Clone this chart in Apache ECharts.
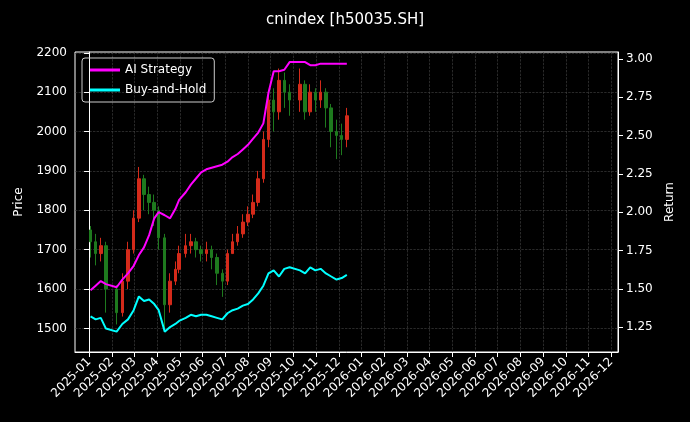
<!DOCTYPE html>
<html><head><meta charset="utf-8">
<script src="https://cdn.jsdelivr.net/npm/echarts@6/dist/echarts.min.js"></script>
<style>html,body{margin:0;background:#000}#c{width:690px;height:422px}</style>
</head><body><div id="c"></div>
<script>
const dates=['2025-01-03','2025-01-10','2025-01-17','2025-01-24','2025-02-07','2025-02-14','2025-02-21','2025-02-28','2025-03-07','2025-03-14','2025-03-21','2025-03-28','2025-04-03','2025-04-11','2025-04-18','2025-04-25','2025-04-30','2025-05-09','2025-05-16','2025-05-23','2025-05-30','2025-06-06','2025-06-13','2025-06-20','2025-06-27','2025-07-04','2025-07-11','2025-07-18','2025-07-25','2025-08-01','2025-08-08','2025-08-15','2025-08-22','2025-08-29','2025-09-05','2025-09-12','2025-09-19','2025-09-26','2025-10-10','2025-10-17','2025-10-24','2025-10-31','2025-11-07','2025-11-14','2025-11-21','2025-11-28','2025-12-05','2025-12-12'];
const open=[1750,1720,1690,1710,1600,1540,1620,1700,1780,1880,1840,1820,1800,1730,1560,1620,1650,1690,1710,1720,1700,1690,1700,1680,1640,1620,1690,1720,1740,1770,1790,1820,1880,1980,2080,2050,2130,2100,2080,2120,2050,2100,2080,2100,2060,2000,1990,1980];
const close=[1720,1690,1710,1600,1540,1620,1700,1780,1880,1840,1820,1800,1730,1560,1620,1650,1690,1710,1720,1700,1690,1700,1680,1640,1620,1690,1720,1740,1770,1790,1820,1880,1980,2080,2050,2130,2100,2080,2120,2050,2100,2080,2100,2060,2000,1990,1980,2040];
const low=[1680,1660,1670,1540,1510,1530,1600,1690,1770,1800,1790,1760,1700,1500,1540,1610,1640,1680,1690,1680,1670,1670,1650,1610,1580,1610,1690,1710,1730,1760,1780,1810,1870,1960,2000,2030,2060,2040,2050,2030,2040,2050,2060,2010,1960,1930,1940,1960];
const high=[1760,1740,1730,1720,1610,1640,1720,1800,1910,1890,1860,1840,1810,1740,1640,1670,1710,1740,1740,1730,1710,1720,1710,1690,1650,1700,1740,1760,1790,1810,1840,1900,2000,2100,2110,2160,2150,2120,2160,2130,2120,2110,2130,2110,2070,2030,2020,2060];
const aiRet=[1.49,1.52,1.55,1.53,1.51,1.56,1.60,1.65,1.72,1.77,1.85,1.96,2.00,1.98,1.96,2.02,2.08,2.13,2.18,2.22,2.26,2.28,2.29,2.30,2.31,2.33,2.36,2.38,2.41,2.44,2.48,2.52,2.58,2.78,2.92,2.92,2.93,2.98,2.98,2.98,2.96,2.96,2.97,2.97,2.97,2.97,2.97,2.97];
const bhRet=[1.32,1.30,1.31,1.24,1.22,1.27,1.30,1.36,1.45,1.42,1.43,1.40,1.36,1.22,1.25,1.27,1.29,1.31,1.33,1.32,1.33,1.33,1.32,1.31,1.30,1.34,1.36,1.37,1.39,1.40,1.43,1.47,1.52,1.60,1.62,1.58,1.63,1.64,1.62,1.60,1.64,1.62,1.63,1.60,1.58,1.56,1.57,1.59];
const priceTicks=[1500,1600,1700,1800,1900,2000,2100,2200];
const retTicks=[1.25,1.5,1.75,2.0,2.25,2.5,2.75,3.0];
const monthTicks=[...Array(24).keys()];
function mIdx(s){const[y,m,d]=s.split('-').map(Number);const dim=new Date(y,m,0).getDate();return (y-2025)*12+(m-1)+(d-1)/dim;}
function mLabel(v){const y=2025+Math.floor(v/12),m=v%12+1;return y+'-'+String(m).padStart(2,'0');}
const xs=dates.map(mIdx);
const grid={type:'dashed',color:'#444',width:0.6};
const chart=echarts.init(document.getElementById('c'));
chart.setOption({
 backgroundColor:'#000',animation:false,
 title:{text:'cnindex [h50035.SH]',left:'center',top:8,textStyle:{color:'#fff',fontSize:15,fontWeight:'normal',fontFamily:'DejaVu Sans'}},
 legend:{left:82,top:58,orient:'vertical',itemWidth:30,itemHeight:3,itemGap:8,data:['AI Strategy','Buy-and-Hold'],borderColor:'#ccc',borderWidth:1,borderRadius:3,padding:[6,8],textStyle:{color:'#fff',fontSize:12,fontFamily:'DejaVu Sans'},icon:'rect'},
 grid:{left:75,right:72,top:52,bottom:70,show:true,borderColor:'#fff',borderWidth:1,backgroundColor:'transparent'},
 xAxis:{type:'value',min:-0.62,max:23.3,axisLine:{lineStyle:{color:'#fff'}},
  axisTick:{customValues:monthTicks,lineStyle:{color:'#fff'}},
  axisLabel:{customValues:monthTicks,formatter:mLabel,rotate:45,color:'#fff',fontSize:12,fontFamily:'DejaVu Sans'},
  splitLine:{show:true,lineStyle:grid}},
 yAxis:[{type:'value',min:1440,max:2202,name:'Price',nameLocation:'middle',nameGap:50,nameTextStyle:{color:'#fff',fontSize:12,fontFamily:'DejaVu Sans'},
   axisLine:{show:true,lineStyle:{color:'#fff'}},axisTick:{show:true,customValues:priceTicks,lineStyle:{color:'#fff'}},
   axisLabel:{customValues:priceTicks,formatter:v=>String(v),color:'#fff',fontSize:12,fontFamily:'DejaVu Sans'},splitLine:{show:true,lineStyle:grid}},
  {type:'value',min:1.087,max:3.046,name:'Return',nameLocation:'middle',nameGap:45,nameTextStyle:{color:'#fff',fontSize:12,fontFamily:'DejaVu Sans'},
   axisLine:{show:true,lineStyle:{color:'#fff'}},axisTick:{show:true,customValues:retTicks,lineStyle:{color:'#fff'}},
   axisLabel:{customValues:retTicks,formatter:v=>v.toFixed(2),color:'#fff',fontSize:12,fontFamily:'DejaVu Sans'},splitLine:{show:false}}],
 series:[
  {type:'candlestick',yAxisIndex:0,barWidth:3,data:xs.map((x,i)=>[x,open[i],close[i],low[i],high[i]]),
   encode:{x:0,y:[1,2,3,4]},itemStyle:{color:'#d42a1a',color0:'#1e7a1e',borderColor:'#d42a1a',borderColor0:'#1e7a1e'}},
  {name:'AI Strategy',type:'line',yAxisIndex:1,showSymbol:false,data:xs.map((x,i)=>[x,aiRet[i]]),lineStyle:{color:'#ff00ff',width:2},itemStyle:{color:'#ff00ff'}},
  {name:'Buy-and-Hold',type:'line',yAxisIndex:1,showSymbol:false,data:xs.map((x,i)=>[x,bhRet[i]]),lineStyle:{color:'#00ffff',width:2},itemStyle:{color:'#00ffff'}}
 ]});
</script></body></html>
